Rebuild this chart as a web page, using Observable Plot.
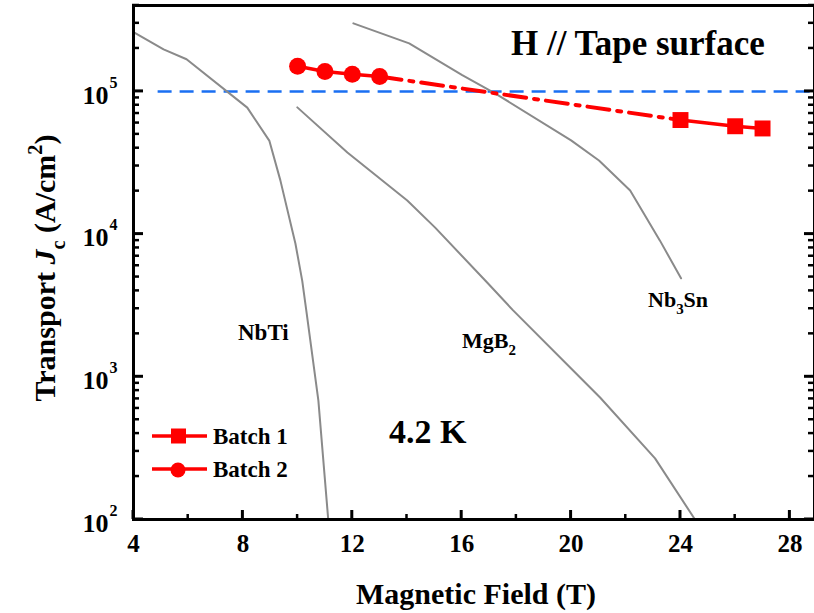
<!DOCTYPE html>
<html><head><meta charset="utf-8">
<script src="https://cdn.jsdelivr.net/npm/d3@7"></script>
<script src="https://cdn.jsdelivr.net/npm/@observablehq/plot@0.6"></script>
<style>body{margin:0;background:#fff}</style>
</head><body><div id="chart"></div>
<script>
// ---- data ----
const xMajorTicks = [4, 8, 12, 16, 20, 24, 28];
const xMinorTicks = [6, 10, 14, 18, 22, 26];
const yMajorTicks = [1e2, 1e3, 1e4, 1e5];
const yTickExponents = ["2", "3", "4", "5"];
const yMinorTicks = [2, 3, 4, 5, 6, 7, 8, 9]
  .flatMap(m => yMajorTicks.map(d => m * d)).filter(v => v <= 4e5);

const nbtiField = [4.0, 5.1, 5.94, 8.16, 8.97, 9.37, 9.92, 10.17, 10.32, 10.76, 11.12];
const nbtiJc    = [2.6e5, 1.97e5, 1.68e5, 7.7e4, 4.5e4, 2.38e4, 8.6e3, 4.7e3, 2.9e3, 680, 100];

const mgb2Field = [9.99, 11.82, 14.01, 15.03, 16.93, 17.88, 20.33, 21.06, 23.07, 24.53];
const mgb2Jc    = [7.73e4, 3.73e4, 1.72e4, 1.11e4, 4.58e3, 2.92e3, 988, 716, 268, 100];

const nb3snField = [12.04, 14.08, 16.02, 17.22, 20.0, 21.02, 22.16, 23.25, 24.02];
const nb3snJc    = [3.0e5, 2.17e5, 1.3e5, 9.7e4, 4.54e4, 3.28e4, 2.02e4, 9.0e3, 4.9e3];

const batch1Field = [24, 26, 27];
const batch1Jc    = [6.3e4, 5.7e4, 5.5e4];
const batch2Field = [10, 11, 12, 13];
const batch2Jc    = [1.5e5, 1.38e5, 1.32e5, 1.27e5];

const refJc = 1e5;
const refFrom = 4.9;

// ---- build ----
const font = "'Liberation Serif', 'Times New Roman', serif";
const red = "#ff0000";
const gray = "#8a8a8a";
const W = 814, H = 613, mL = 133, mR = 0, mT = 5, mB = 94;
const xMax = 28.9;
const pts = (f, j) => f.map((x, i) => ({x, y: j[i]}));
const nbti = pts(nbtiField, nbtiJc), mgb2 = pts(mgb2Field, mgb2Jc), nb3sn = pts(nb3snField, nb3snJc);
const b1 = pts(batch1Field, batch1Jc), b2 = pts(batch2Field, batch2Jc);
const bridge = [b2[b2.length - 1], b1[0]];

const plot = Plot.plot({
  width: W, height: H,
  marginLeft: mL, marginRight: mR, marginTop: mT, marginBottom: mB,
  style: {fontFamily: font, background: "white", overflow: "visible"},
  x: {domain: [4, xMax]},
  y: {type: "log", domain: [100, 4e5], axis: null},
  marks: [
    Plot.ruleY([refJc], {x1: refFrom, x2: xMax, stroke: "#1a6ff2", strokeWidth: 2.5, strokeDasharray: "14,8"}),
    Plot.line(nbti, {x: "x", y: "y", stroke: gray, strokeWidth: 2}),
    Plot.line(mgb2, {x: "x", y: "y", stroke: gray, strokeWidth: 2}),
    Plot.line(nb3sn, {x: "x", y: "y", stroke: gray, strokeWidth: 2}),
    Plot.line(bridge, {x: "x", y: "y", stroke: red, strokeWidth: 4, strokeDasharray: "22,8,4,8"}),
    Plot.line(b2, {x: "x", y: "y", stroke: red, strokeWidth: 3.5}),
    Plot.dot(b2, {x: "x", y: "y", r: 8.5, fill: red, stroke: "none"}),
    Plot.line(b1, {x: "x", y: "y", stroke: red, strokeWidth: 3.5}),
    Plot.dot(b1, {x: "x", y: "y", r: 9, symbol: "square", fill: red, stroke: "none"}),
    // tick labels
    Plot.axisX(xMajorTicks, {tickSize: 0, tickPadding: 15, fontSize: 25, fontWeight: "bold", label: null, tickFormat: d => String(d)}),
    Plot.text(yMajorTicks, {y: d => d, frameAnchor: "left", dx: -25, dy: 4, textAnchor: "end", text: () => "10", fontSize: 26, fontWeight: "bold"}),
    Plot.text(yMajorTicks, {y: d => d, frameAnchor: "left", dx: -24, dy: -9, textAnchor: "start", text: (d, i) => yTickExponents[i], fontSize: 16, fontWeight: "bold"}),
    Plot.frame({strokeWidth: 3})
  ]
});

const svg = d3.select(plot);
const sx = plot.scale("x").apply, sy = plot.scale("y").apply;
const x0 = sx(4), x1 = sx(xMax), yBottom = sy(100);

// inward ticks, placed with the plot's own scales
const tg = svg.append("g").attr("stroke", "black").attr("fill", "none");
xMajorTicks.forEach(v => tg.append("line").attr("x1", sx(v)).attr("x2", sx(v)).attr("y1", yBottom).attr("y2", yBottom - 9).attr("stroke-width", 3));
xMinorTicks.forEach(v => tg.append("line").attr("x1", sx(v)).attr("x2", sx(v)).attr("y1", yBottom).attr("y2", yBottom - 5).attr("stroke-width", 2.5));
[[yMajorTicks, 10, 3], [yMinorTicks, 6, 2.5]].forEach(([arr, len, sw]) => arr.forEach(v => {
  tg.append("line").attr("x1", x0 - 1).attr("x2", x0 + len).attr("y1", sy(v)).attr("y2", sy(v)).attr("stroke-width", sw);
  tg.append("line").attr("x1", x1).attr("x2", x1 - len).attr("y1", sy(v)).attr("y2", sy(v)).attr("stroke-width", sw);
}));

function rich(x, y, parts, {size = 20, anchor = "start", rotate = 0} = {}) {
  const t = svg.append("text")
    .attr("transform", `translate(${x},${y})` + (rotate ? ` rotate(${rotate})` : ""))
    .attr("text-anchor", anchor)
    .attr("font-family", font).attr("font-weight", "bold")
    .attr("font-size", size).attr("fill", "black");
  let shift = 0;
  for (const p of parts) {
    const target = p.sub ? size * 0.32 : p.sup ? -size * 0.42 : 0;
    const s = t.append("tspan").text(p.t).attr("dy", target - shift);
    if (p.sub || p.sup) s.attr("font-size", size * 0.68);
    if (p.italic) s.attr("font-style", "italic");
    shift = target;
  }
  return t;
}

// annotations
rich(511, 55, [{t: "H // Tape surface"}], {size: 35});
rich(389, 443, [{t: "4.2 K"}], {size: 34});
rich(238, 340, [{t: "NbTi"}], {size: 23});
rich(462, 348, [{t: "MgB"}, {t: "2", sub: true}], {size: 22});
rich(648, 307, [{t: "Nb"}, {t: "3", sub: true}, {t: "Sn"}], {size: 22});
// axis titles
rich(476, 604, [{t: "Magnetic Field (T)"}], {size: 30, anchor: "middle"});
rich(55, 268, [{t: "Transport "}, {t: "J", italic: true}, {t: "c", sub: true}, {t: " (A/cm"}, {t: "2", sup: true}, {t: ")"}], {size: 30, anchor: "middle", rotate: -90});

// legend
const leg = svg.append("g");
[[436, "square", "Batch 1"], [469, "circle", "Batch 2"]].forEach(([yy, sym, label]) => {
  leg.append("line").attr("x1", 152).attr("x2", 207).attr("y1", yy).attr("y2", yy)
    .attr("stroke", red).attr("stroke-width", 3.5);
  if (sym === "square") leg.append("rect").attr("x", 171).attr("y", yy - 7.5).attr("width", 15).attr("height", 15).attr("fill", red);
  else leg.append("circle").attr("cx", 178).attr("cy", yy + 1).attr("r", 7.5).attr("fill", red);
  leg.append("text").attr("x", 213).attr("y", yy + 8).attr("text-anchor", "start").text(label)
    .attr("font-family", font).attr("font-weight", "bold").attr("font-size", 23).attr("fill", "black");
});

document.getElementById("chart").append(plot);
</script>
</body></html>
